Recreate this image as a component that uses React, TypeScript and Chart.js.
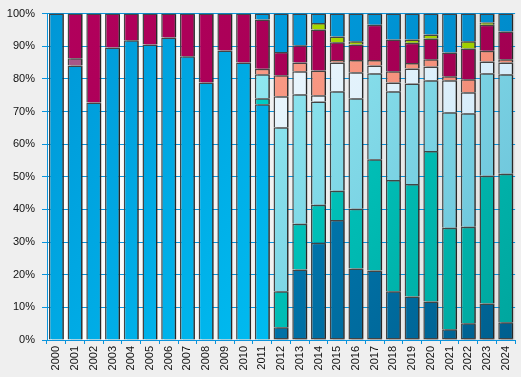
import React, { useEffect, useRef } from "react";
import { Chart, registerables } from "chart.js";

Chart.register(...registerables);

const years = [
  "2000", "2001", "2002", "2003", "2004", "2005", "2006", "2007", "2008", "2009",
  "2010", "2011", "2012", "2013", "2014", "2015", "2016", "2017", "2018", "2019",
  "2020", "2021", "2022", "2023", "2024",
];

const darkBlue = [0, 0, 0, 0, 0, 0, 0, 0, 0, 0, 0, 0, 3.9, 21.6, 29.8, 36.8, 21.9, 21.3, 14.9, 13.3, 11.8, 3.3, 5.1, 11.2, 5.4];
const brightBlue = [100, 84.1, 72.8, 89.6, 91.8, 90.5, 92.7, 86.9, 78.9, 88.7, 85.0, 72.2, 0, 0, 0, 0, 0, 0, 0, 0, 0, 0, 0, 0, 0];
const teal = [0, 0, 0, 0, 0, 0, 0, 0, 0, 0, 0, 1.9, 11.0, 14.0, 11.6, 8.9, 18.3, 34.1, 34.1, 34.5, 46.1, 31.1, 29.6, 39.1, 45.5];
const lightCyan = [0, 0, 0, 0, 0, 0, 0, 0, 0, 0, 0, 7.3, 50.3, 39.7, 31.7, 30.5, 33.9, 26.3, 27.2, 30.8, 21.7, 35.4, 34.8, 31.4, 30.5];
const paleBlue = [0, 0, 0, 0, 0, 0, 0, 0, 0, 0, 0, 0, 9.5, 7.0, 1.9, 8.8, 7.9, 2.4, 2.7, 4.6, 4.2, 9.8, 6.4, 3.6, 3.6];
const salmon = [0, 0, 0, 0, 0, 0, 0, 0, 0, 0, 0, 1.7, 6.4, 2.7, 7.6, 0.8, 3.8, 1.7, 3.4, 1.7, 2.2, 1.2, 4.0, 3.3, 1.0];
const purple = [0, 2.2, 0, 0, 0, 0, 0, 0, 0, 0, 0, 0, 0, 0, 0, 0, 0, 0, 0, 0, 0, 0, 0, 0, 0];
const crimson = [0, 13.7, 27.2, 10.4, 8.2, 9.5, 7.3, 13.1, 21.1, 11.3, 15.0, 15.1, 7.1, 5.3, 12.5, 5.4, 4.7, 10.8, 9.8, 6.2, 6.4, 7.3, 9.4, 8.0, 8.5];
const yellowGreen = [0, 0, 0, 0, 0, 0, 0, 0, 0, 0, 0, 0, 0, 0, 2.0, 1.8, 1.0, 0, 0, 1.0, 1.2, 0, 2.2, 0.7, 0];
const topBlue = [0, 0, 0, 0, 0, 0, 0, 0, 0, 0, 0, 1.8, 11.8, 9.7, 2.9, 7.0, 8.5, 3.4, 7.9, 7.9, 6.4, 11.9, 8.5, 2.7, 5.5];

const yTicks = [0, 10, 20, 30, 40, 50, 60, 70, 80, 90, 100];

const seriesList: { name: string; data: number[]; colors: [string, string] }[] = [
  { name: "A", data: darkBlue, colors: ["#0094d4", "#005f8e"] },
  { name: "B", data: brightBlue, colors: ["#0096d6", "#00d0ff"] },
  { name: "C", data: teal, colors: ["#00e6de", "#00a59d"] },
  { name: "D", data: lightCyan, colors: ["#a6ffff", "#66bdd6"] },
  { name: "E", data: paleBlue, colors: ["#ffffff", "#c8e6f8"] },
  { name: "F", data: salmon, colors: ["#ffa490", "#ee8670"] },
  { name: "G", data: purple, colors: ["#a85888", "#a05080"] },
  { name: "H", data: crimson, colors: ["#b2005c", "#9c004e"] },
  { name: "I", data: yellowGreen, colors: ["#b0e000", "#96c600"] },
  { name: "J", data: topBlue, colors: ["#00a8ea", "#007fbe"] },
];

const AXIS_BLUE = "#0a94dc";

export default function App() {
  const ref = useRef<HTMLCanvasElement | null>(null);

  useEffect(() => {
    document.body.style.margin = "0";
    document.body.style.background = "#efefef";
    const canvas = ref.current;
    if (!canvas) return;

    const gradCache: Record<number, { key: string; g: CanvasGradient }> = {};
    const makeBg = (idx: number) => (ctx: any) => {
      const chart = ctx.chart;
      const ca = chart.chartArea;
      const [c0, c1] = seriesList[idx].colors;
      if (!ca) return c0;
      const key = `${ca.left}-${ca.right}-${ca.top}-${ca.bottom}`;
      const cached = gradCache[idx];
      if (cached && cached.key === key) return cached.g;
      const g = chart.ctx.createLinearGradient(ca.left, ca.top, ca.right, ca.bottom);
      g.addColorStop(0, c0);
      g.addColorStop(1, c1);
      gradCache[idx] = { key, g };
      return g;
    };

    const bgPlugin = {
      id: "bgPlugin",
      beforeDraw(chart: any) {
        const c = chart.ctx;
        const ca = chart.chartArea;
        c.save();
        c.fillStyle = "#efefef";
        c.fillRect(0, 0, chart.width, chart.height);
        const g = c.createLinearGradient(ca.left, 0, ca.right, 0);
        g.addColorStop(0, "#ffffff");
        g.addColorStop(1, "#e2e2e2");
        c.fillStyle = g;
        c.fillRect(ca.left, ca.top, ca.right - ca.left, ca.bottom - ca.top);
        c.restore();
      },
      beforeDatasetsDraw(chart: any) {
        const c = chart.ctx;
        c.save();
        c.shadowColor = "rgba(0,0,0,0.42)";
        c.shadowOffsetX = 3;
        c.shadowOffsetY = 0;
        c.shadowBlur = 0;
      },
      afterDatasetsDraw(chart: any) {
        chart.ctx.restore();
      },
    };

    const chart = new Chart(canvas, {
      type: "bar",
      data: {
        labels: years,
        datasets: seriesList.map((s, i) => ({
          label: s.name,
          data: s.data.map((v) => (v === 0 ? null : v)),
          backgroundColor: makeBg(i),
          borderColor: "#444444",
          borderWidth: 1.5,
          borderSkipped: i === 0 ? false : "start",
          barPercentage: 0.8,
          categoryPercentage: 1,
        })),
      },
      options: {
        animation: false,
        responsive: false,
        devicePixelRatio: 1,
        layout: { padding: { top: 12, right: 3, left: 0, bottom: 0 } },
        plugins: {
          legend: { display: false },
          tooltip: { enabled: false },
          title: { display: false },
        },
        scales: {
          x: {
            stacked: true,
            offset: true,
            afterFit(scale: any) {
              scale.height = 37;
            },
            grid: {
              display: true,
              offset: true,
              drawOnChartArea: false,
              drawTicks: true,
              tickLength: 4,
              tickColor: AXIS_BLUE,
              color: AXIS_BLUE,
            },
            border: { display: true, color: AXIS_BLUE, width: 1 },
            ticks: {
              autoSkip: false,
              maxRotation: 90,
              minRotation: 90,
              padding: 2,
              color: "#111111",
              font: { family: "Liberation Sans", size: 11 },
            },
          },
          y: {
            stacked: true,
            min: 0,
            max: 100,
            afterFit(scale: any) {
              scale.width = 47;
            },
            afterBuildTicks(scale: any) {
              scale.ticks = yTicks.map((v) => ({ value: v }));
            },
            grid: {
              color: AXIS_BLUE,
              lineWidth: 1,
              drawTicks: true,
              tickLength: 5,
              tickColor: AXIS_BLUE,
            },
            border: { display: true, color: AXIS_BLUE, width: 1 },
            ticks: {
              padding: 7,
              color: "#111111",
              font: { family: "Liberation Sans", size: 11 },
              callback: (v: any) => `${v}%`,
            },
          },
        },
      },
      plugins: [bgPlugin],
    } as any);

    return () => chart.destroy();
  }, []);

  return (
    <div style={{ position: "absolute", left: 0, top: 0, width: 521, height: 377 }}>
      <canvas ref={ref} width={521} height={377} style={{ display: "block" }} />
    </div>
  );
}
